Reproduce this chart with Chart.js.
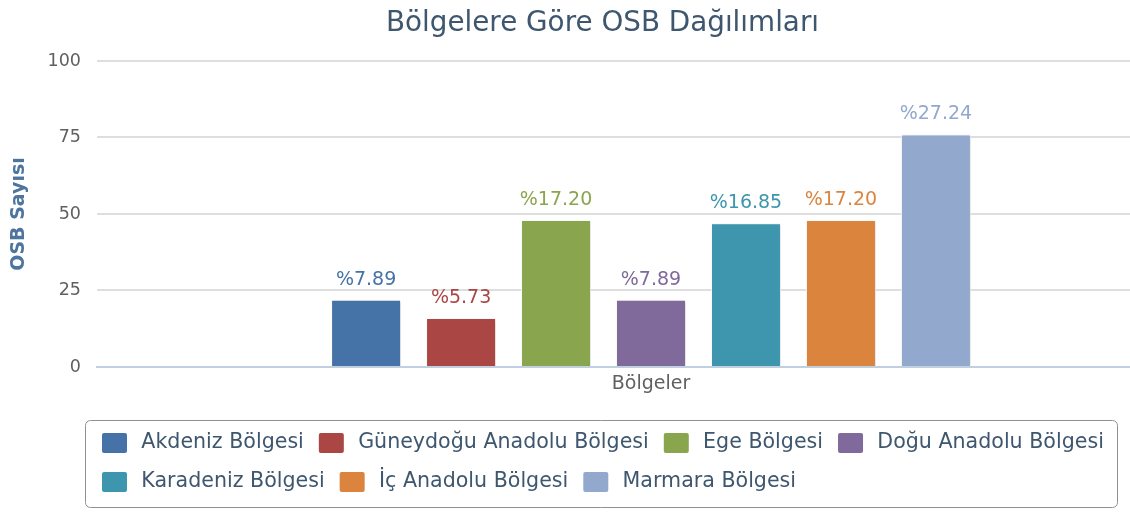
<!DOCTYPE html>
<html lang="tr">
<head>
  <meta charset="UTF-8">
  <title>Bölgelere Göre OSB Dağılımları</title>
  <script src="https://cdn.jsdelivr.net/npm/chart.js"></script>
  <style>
    html, body {
      margin: 0;
      background: #fff;
      overflow: hidden;
    }
    #chart-container {
      width: 1212px;
      height: 514px;
    }
  </style>
</head>
<body>
  <div id="chart-container">
    <canvas id="osbChart"></canvas>
  </div>
  <script>
    const categories = ['Bölgeler'];
    const regions = [
      'Akdeniz Bölgesi', 'Güneydoğu Anadolu Bölgesi', 'Ege Bölgesi',
      'Doğu Anadolu Bölgesi', 'Karadeniz Bölgesi', 'İç Anadolu Bölgesi', 'Marmara Bölgesi'
    ];
    const counts = [22, 16, 48, 22, 47, 48, 76];
    const percents = [7.89, 5.73, 17.20, 7.89, 16.85, 17.20, 27.24];
    const colors = ['#4572A7', '#AA4643', '#89A54E', '#80699B', '#3D96AE', '#DB843D', '#92A8CD'];

    Chart.defaults.font.family = "'DejaVu Sans', sans-serif";

    // gölge + değer etiketleri
    const barExtras = {
      id: 'barExtras',
      beforeDatasetsDraw(chart) {
        const ctx = chart.ctx;
        ctx.save();
        ctx.shadowColor = 'rgba(0,0,0,0.18)';
        ctx.shadowOffsetX = 1;
        ctx.shadowOffsetY = 1;
        ctx.shadowBlur = 3;
      },
      afterDatasetsDraw(chart) {
        const ctx = chart.ctx;
        ctx.restore();
        ctx.save();
        ctx.font = "19px 'DejaVu Sans', sans-serif";
        ctx.textAlign = 'center';
        ctx.textBaseline = 'middle';
        chart.data.datasets.forEach((ds, i) => {
          const bar = chart.getDatasetMeta(i).data[0];
          if (!bar) return;
          ctx.fillStyle = ds.backgroundColor;
          ctx.fillText('%' + ds.percent.toFixed(2), bar.x, bar.y - 20);
        });
        ctx.restore();
      }
    };

    // legend kutusu (Highcharts gibi)
    const legendBox = {
      id: 'legendBox',
      afterLayout(chart) {
        const lg = chart.legend;
        lg.left = 87;
        lg.width = lg.right - lg.left;
      },
      afterDraw(chart) {
        const lg = chart.legend;
        const ctx = chart.ctx;
        ctx.save();
        ctx.strokeStyle = '#909090';
        ctx.lineWidth = 1;
        ctx.beginPath();
        ctx.roundRect(85.5, lg.top + 2.5, 1032, 87, 5);
        ctx.stroke();
        ctx.restore();
      }
    };

    const datasets = regions.map((name, i) => ({
      label: name,
      data: [counts[i]],
      percent: percents[i],
      backgroundColor: colors[i],
      borderColor: 'rgba(255,255,255,0.9)',
      borderWidth: 1,
      categoryPercentage: 0.6,
      barPercentage: 0.737
    }));

    const ctx = document.getElementById('osbChart').getContext('2d');
    const chart = new Chart(ctx, {
      type: 'bar',
      data: { labels: categories, datasets },
      plugins: [barExtras, legendBox],
      options: {
        responsive: true,
        maintainAspectRatio: false,
        animation: false,
        layout: { padding: { left: 0, right: 7, top: 0, bottom: 8 } },
        plugins: {
          title: {
            display: true,
            text: 'Bölgelere Göre OSB Dağılımları',
            color: '#3e576f',
            font: { size: 27.8, weight: 'normal' },
            padding: { top: 7, bottom: 20.6 }
          },
          legend: {
            position: 'bottom',
            align: 'start',
            labels: {
              color: '#3e576f',
              font: { size: 20.6 },
              boxWidth: 33,
              boxHeight: 28,
              padding: 11,
              useBorderRadius: true,
              borderRadius: 6,
              generateLabels(chart) {
                const items = Chart.defaults.plugins.legend.labels.generateLabels(chart);
                items.forEach(it => {
                  it.lineWidth = 8;
                  it.strokeStyle = '#ffffff';
                });
                return items;
              }
            }
          },
          tooltip: { enabled: false }
        },
        scales: {
          x: {
            grid: { display: false },
            border: { color: '#C0D0E0', width: 2 },
            ticks: { color: '#606060', font: { size: 19 }, padding: -2 },
            afterFit(scale) { scale.height = 51; }
          },
          y: {
            min: 0,
            max: 100,
            grid: {
              color: c => c.tick.value === 0 ? '#C0D0E0' : '#dedede',
              lineWidth: 2,
              drawTicks: false
            },
            border: { display: false },
            ticks: { stepSize: 25, color: '#606060', font: { size: 17.5 }, padding: 16 },
            title: {
              display: true,
              text: 'OSB Sayısı',
              color: '#4d759e',
              font: { size: 19, weight: 'bold' },
              padding: { top: 8, bottom: 0 }
            },
            afterFit(scale) { scale.width = 97; }
          }
        }
      }
    });
  </script>
</body>
</html>
